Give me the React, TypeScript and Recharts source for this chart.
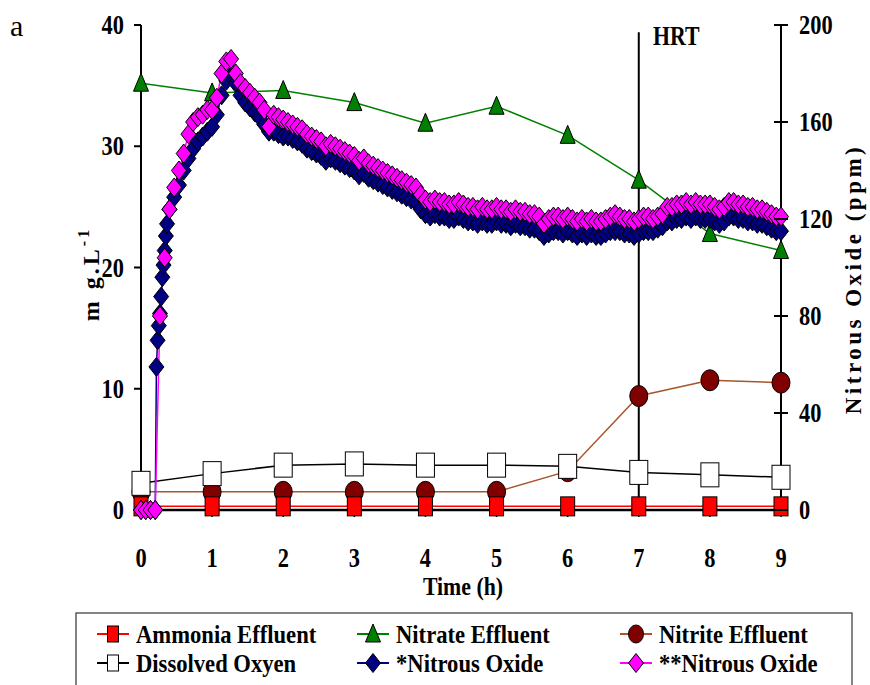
import React from 'react';
import { ComposedChart, Line, XAxis, YAxis, ReferenceLine } from 'recharts';

// effluent samples, one per hour
const hours = [0, 1, 2, 3, 4, 5, 6, 7, 8, 9];
const ammoniaEffluent = [0.3, 0.3, 0.3, 0.3, 0.3, 0.3, 0.3, 0.3, 0.3, 0.3];
const nitrateEffluent = [35.2, 34.4, 34.6, 33.6, 31.9, 33.3, 30.9, 27.2, 22.8, 21.4];
const nitriteEffluent = [1.5, 1.5, 1.5, 1.5, 1.5, 1.5, 3.2, 9.4, 10.7, 10.5];
const dissolvedOxygen = [2.2, 3.0, 3.7, 3.8, 3.7, 3.7, 3.6, 3.1, 2.9, 2.7];

const leftTicks = [0, 10, 20, 30, 40];
const rightTicks = [0, 40, 80, 120, 160, 200];

// *Nitrous Oxide (ppm), logger minutes
const n2oStarMin = [
  0, 4, 8, 12, 13, 14, 15, 16, 17, 18,
  19, 20, 21, 22, 24, 28, 32, 36, 40, 44,
  48, 52, 56, 60, 64, 68, 72, 76, 80, 84,
  88, 92, 96, 100, 104, 108, 112, 116, 120, 124,
  128, 132, 136, 140, 144, 148, 152, 156, 160, 164,
  168, 172, 176, 180, 184, 188, 192, 196, 200, 204,
  208, 212, 216, 220, 224, 228, 232, 236, 240, 244,
  248, 252, 256, 260, 264, 268, 272, 276, 280, 284,
  288, 292, 296, 300, 304, 308, 312, 316, 320, 324,
  328, 332, 336, 340, 344, 348, 352, 356, 360, 364,
  368, 372, 376, 380, 384, 388, 392, 396, 400, 404,
  408, 412, 416, 420, 424, 428, 432, 436, 440, 444,
  448, 452, 456, 460, 464, 468, 472, 476, 480, 484,
  488, 492, 496, 500, 504, 508, 512, 516, 520, 524,
  528, 532, 536, 540,
];
const n2oStar = [
  0, 0, 0, 0, 59, 70, 76, 81, 88, 96,
  101, 107, 113, 118, 124, 129, 134, 140, 145, 149,
  152, 154, 156, 158, 163, 171, 177, 179, 176, 171,
  168, 166, 164, 162, 159, 156, 156, 155, 154, 154,
  153, 152, 151, 149, 148, 147, 146, 144, 145, 144,
  143, 142, 141, 140, 138, 139, 137, 136, 135, 134,
  133, 132, 131, 130, 129, 128, 127, 124, 122, 121,
  122, 121, 121, 120, 120, 121, 120, 119, 119, 118,
  119, 118, 118, 119, 118, 118, 117, 118, 117, 117,
  116, 116, 115, 113, 114, 115, 115, 114, 115, 114,
  113, 114, 113, 114, 113, 113, 114, 115, 115, 115,
  114, 114, 113, 114, 115, 115, 115, 116, 117, 119,
  119, 120, 120, 121, 120, 121, 120, 120, 120, 119,
  118, 119, 121, 121, 120, 120, 119, 119, 118, 118,
  117, 116, 115, 115,
];

// **Nitrous Oxide (ppm), logger minutes
const n2oDblMin = [
  0, 4, 8, 12, 16, 20, 24, 28, 32, 36,
  40, 44, 48, 52, 56, 60, 64, 68, 72, 76,
  80, 84, 88, 92, 96, 100, 104, 108, 112, 116,
  120, 124, 128, 132, 136, 140, 144, 148, 152, 156,
  160, 164, 168, 172, 176, 180, 184, 188, 192, 196,
  200, 204, 208, 212, 216, 220, 224, 228, 232, 236,
  240, 244, 248, 252, 256, 260, 264, 268, 272, 276,
  280, 284, 288, 292, 296, 300, 304, 308, 312, 316,
  320, 324, 328, 332, 336, 340, 344, 348, 352, 356,
  360, 364, 368, 372, 376, 380, 384, 388, 392, 396,
  400, 404, 408, 412, 416, 420, 424, 428, 432, 436,
  440, 444, 448, 452, 456, 460, 464, 468, 472, 476,
  480, 484, 488, 492, 496, 500, 504, 508, 512, 516,
  520, 524, 528, 532, 536, 540,
];
const n2oDbl = [
  0, 0, 0, 0, 80, 104, 124, 133, 140, 147,
  155, 160, 162, 163, 165, 165, 170, 180, 185, 186,
  180, 176, 174, 172, 170, 168, 165, 158, 163, 162,
  161, 160, 159, 158, 157, 155, 154, 153, 152, 150,
  151, 150, 149, 148, 147, 146, 144, 145, 143, 142,
  141, 140, 139, 138, 137, 136, 135, 134, 133, 130,
  128, 127, 128, 127, 127, 126, 126, 127, 126, 125,
  125, 124, 125, 124, 124, 125, 124, 124, 123, 124,
  123, 123, 122, 122, 121, 118, 120, 121, 121, 120,
  121, 120, 119, 120, 119, 120, 119, 119, 120, 121,
  122, 121, 120, 120, 119, 120, 121, 121, 120, 121,
  122, 125, 125, 126, 126, 127, 126, 127, 126, 126,
  126, 125, 124, 125, 127, 127, 126, 126, 125, 125,
  124, 124, 123, 122, 121, 121,
];

const effluentRows = hours.map((t, i) => ({
  t,
  ammonia: ammoniaEffluent[i],
  nitrate: nitrateEffluent[i],
  nitrite: nitriteEffluent[i],
  oxygen: dissolvedOxygen[i],
}));
const starRows = n2oStarMin.map((m, i) => ({ t: m / 60, v: n2oStar[i] }));
const dblRows = n2oDblMin.map((m, i) => ({ t: m / 60, v: n2oDbl[i] }));

const FONT = 'Liberation Serif, Times New Roman, serif';
const NITRITE_LINE = '#A8552A';

// plot frame (page px)
const PLOT_L = 141;
const PLOT_R = 781;

const squareDot = (fill: string, w: number, h: number) => (p: any) =>
  p.cx == null ? null : (
    <rect key={p.index} x={p.cx - w / 2} y={p.cy - h / 2} width={w} height={h} fill={fill} stroke="#000" strokeWidth={1} />
  );
const triangleDot = (p: any) =>
  p.cx == null ? null : (
    <polygon key={p.index} points={`${p.cx},${p.cy - 10} ${p.cx + 7.5},${p.cy + 8} ${p.cx - 7.5},${p.cy + 8}`} fill="#008000" stroke="#000" strokeWidth={1} />
  );
const ellipseDot = (p: any) =>
  p.cx == null ? null : (
    <ellipse key={p.index} cx={p.cx} cy={p.cy} rx={9} ry={10.5} fill="#800000" stroke="#000" strokeWidth={1} />
  );
const diamondDot = (fill: string) => (p: any) =>
  p.cx == null ? null : (
    <polygon key={p.index} points={`${p.cx},${p.cy - 9.5} ${p.cx + 7.5},${p.cy} ${p.cx},${p.cy + 9.5} ${p.cx - 7.5},${p.cy}`} fill={fill} stroke="#000" strokeWidth={1} />
  );

const SText = ({ x, y, sx = 0.8, size = 28, anchor = 'middle', children }: any) => (
  <g transform={`translate(${x},${y}) scale(${sx},1)`}>
    <text x={0} y={0} textAnchor={anchor} fontFamily={FONT} fontWeight={700} fontSize={size} fill="#000">
      {children}
    </text>
  </g>
);

const XTick = (p: any) => <SText x={p.x} y={567}>{p.payload.value}</SText>;
const LeftTick = (p: any) => <SText x={PLOT_L - 17} y={p.y + 9} anchor="end">{p.payload.value}</SText>;
const RightTick = (p: any) => (
  <g>
    <line x1={PLOT_R - 7} x2={PLOT_R + 7} y1={p.y} y2={p.y} stroke="#000" strokeWidth={2} />
    <SText x={PLOT_R + 18} y={p.y + 9} anchor="start">{p.payload.value}</SText>
  </g>
);

const legendItems = [
  { label: 'Ammonia Effluent', line: '#FF0000', icon: 'redsq', col: 0, row: 0 },
  { label: 'Nitrate Effluent', line: '#008000', icon: 'tri', col: 1, row: 0 },
  { label: 'Nitrite Effluent', line: NITRITE_LINE, icon: 'ell', col: 2, row: 0 },
  { label: 'Dissolved Oxyen', line: '#000000', icon: 'whsq', col: 0, row: 1 },
  { label: '*Nitrous Oxide', line: '#000080', icon: 'navy', col: 1, row: 1 },
  { label: '**Nitrous Oxide', line: '#FF00FF', icon: 'mag', col: 2, row: 1 },
];
const legendCols = [97, 357, 620];
const legendRows = [634, 663];

const legendIcon = (kind: string, cx: number, cy: number) => {
  const p = { cx, cy, index: 0 };
  if (kind === 'redsq') return squareDot('#FF0000', 11, 16)(p);
  if (kind === 'whsq') return squareDot('#FFFFFF', 11, 16)(p);
  if (kind === 'tri') return triangleDot(p);
  if (kind === 'ell') return <ellipse cx={cx} cy={cy} rx={7.5} ry={9} fill="#800000" stroke="#000" />;
  if (kind === 'navy') return diamondDot('#000080')(p);
  return diamondDot('#FF00FF')(p);
};

export default function App() {
  return (
    <div style={{ position: 'absolute', left: 0, top: 0, width: 870, height: 685, background: '#fff' }}>
      <ComposedChart
        width={870}
        height={685}
        data={effluentRows}
        margin={{ top: 25, right: 29, left: 81, bottom: 145 }}
      >
        <XAxis
          type="number"
          dataKey="t"
          domain={[0, 9]}
          ticks={hours}
          height={30}
          tickSize={7}
          axisLine={{ stroke: '#000', strokeWidth: 2.5 }}
          tickLine={{ stroke: '#000', strokeWidth: 1.5 }}
          tick={XTick}
        />
        <YAxis
          yAxisId="left"
          domain={[0, 40]}
          ticks={leftTicks}
          width={60}
          tickSize={7}
          axisLine={{ stroke: '#000', strokeWidth: 2 }}
          tickLine={{ stroke: '#000', strokeWidth: 2 }}
          tick={LeftTick}
        />
        <YAxis
          yAxisId="right"
          orientation="right"
          domain={[0, 200]}
          ticks={rightTicks}
          width={60}
          axisLine={{ stroke: '#000', strokeWidth: 2 }}
          tickLine={false}
          tick={RightTick}
        />
        <Line yAxisId="left" dataKey="nitrite" stroke={NITRITE_LINE} strokeWidth={1.5} dot={ellipseDot} activeDot={false} isAnimationActive={false} />
        <Line yAxisId="left" dataKey="ammonia" stroke="#FF0000" strokeWidth={1.5} dot={squareDot('#FF0000', 14, 19)} activeDot={false} isAnimationActive={false} />
        <Line yAxisId="left" dataKey="oxygen" stroke="#000" strokeWidth={1.5} dot={squareDot('#FFFFFF', 18, 24)} activeDot={false} isAnimationActive={false} />
        <Line yAxisId="left" dataKey="nitrate" stroke="#008000" strokeWidth={1.5} dot={triangleDot} activeDot={false} isAnimationActive={false} />
        <Line yAxisId="right" data={starRows} dataKey="v" stroke="#000080" strokeWidth={1.5} dot={diamondDot('#000080')} activeDot={false} isAnimationActive={false} />
        <Line yAxisId="right" data={dblRows} dataKey="v" stroke="#FF00FF" strokeWidth={1.5} dot={diamondDot('#FF00FF')} activeDot={false} isAnimationActive={false} />
        <ReferenceLine yAxisId="left" segment={[{ x: 7, y: 0 }, { x: 7, y: 39.4 }]} stroke="#000" strokeWidth={2} />
      </ComposedChart>

      <svg width={870} height={685} style={{ position: 'absolute', left: 0, top: 0, pointerEvents: 'none' }}>
        <text x={10} y={36} fontFamily={FONT} fontSize={30} fill="#000">a</text>
        <SText x={653} y={45} size={28} sx={0.78} anchor="start">HRT</SText>
        <SText x={463} y={595} size={26} sx={0.84}>Time (h)</SText>
        <text transform="translate(99,274) rotate(-90)" textAnchor="middle" fontFamily={FONT} fontWeight={700} fontSize={24} letterSpacing={3} fill="#000">
          m g.L<tspan dy={-10} fontSize={16}>-1</tspan>
        </text>
        <text transform="translate(861,279) rotate(-90)" textAnchor="middle" fontFamily={FONT} fontWeight={700} fontSize={23} letterSpacing={3.5} fill="#000">
          Nitrous Oxide (ppm)
        </text>

        <rect x={76} y={613} width={776} height={90} fill="none" stroke="#333" strokeWidth={1.2} />
        {legendItems.map((it) => {
          const x0 = legendCols[it.col];
          const y0 = legendRows[it.row];
          return (
            <g key={it.label}>
              <line x1={x0} x2={x0 + 32} y1={y0} y2={y0} stroke={it.line} strokeWidth={2} />
              {legendIcon(it.icon, x0 + 16, y0)}
              <SText x={x0 + 39} y={y0 + 9} size={26} sx={0.87} anchor="start">{it.label}</SText>
            </g>
          );
        })}
      </svg>
    </div>
  );
}
